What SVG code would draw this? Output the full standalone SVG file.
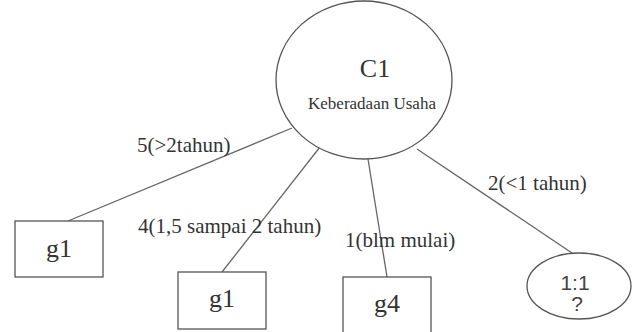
<svg xmlns="http://www.w3.org/2000/svg" width="637" height="332" viewBox="0 0 637 332">
  <style>
    .shape { fill: #ffffff; stroke: #555555; stroke-width: 1.3; }
    .edge { stroke: #666666; stroke-width: 1.3; fill: none; }
    .serif { font-family: "Liberation Serif", "Times New Roman", serif; fill: #333333; }
    .sans { font-family: "Liberation Sans", Arial, sans-serif; fill: #444444; }
    .label { font-size: 21px; }
    .leaf { font-size: 26px; text-anchor: middle; }
  </style>
  <rect width="637" height="332" fill="#ffffff"/>

  <!-- branches from the root criterion -->
  <g id="connectors">
    <line class="edge" x1="292" y1="128" x2="68" y2="221"/>
    <line class="edge" x1="320" y1="147" x2="222" y2="272"/>
    <line class="edge" x1="368" y1="159" x2="387" y2="277"/>
    <line class="edge" x1="417" y1="149" x2="572" y2="253"/>
  </g>

  <!-- branch labels -->
  <g id="labels">
    <text class="serif label" x="137" y="152">5(&gt;2tahun)</text>
    <text class="serif label" x="138" y="233">4(1,5 sampai 2 tahun)</text>
    <text class="serif label" x="345" y="247">1(blm mulai)</text>
    <text class="serif label" x="488" y="190">2(&lt;1 tahun)</text>
  </g>

  <g id="root-c1">
    <ellipse class="shape" cx="364" cy="80" rx="88" ry="79"/>
    <text class="serif" x="375" y="77" font-size="26" text-anchor="middle">C1</text>
    <text class="serif" x="372" y="109" font-size="17" text-anchor="middle">Keberadaan Usaha</text>
  </g>

  <g id="leaf-g1-left">
    <rect class="shape" x="15" y="221" width="88" height="56"/>
    <text class="serif leaf" x="59" y="257">g1</text>
  </g>

  <g id="leaf-g1-mid">
    <rect class="shape" x="178" y="272" width="88" height="57"/>
    <text class="serif leaf" x="222" y="307">g1</text>
  </g>

  <g id="leaf-g4">
    <rect class="shape" x="343" y="277" width="88" height="60"/>
    <text class="serif leaf" x="387" y="312">g4</text>
  </g>

  <g id="leaf-unknown">
    <ellipse class="shape" cx="579" cy="286" rx="52" ry="33"/>
    <text class="sans" x="575" y="290" font-size="21" text-anchor="middle">1:1</text>
    <text class="sans" x="577" y="311" font-size="21" text-anchor="middle">?</text>
  </g>
</svg>
